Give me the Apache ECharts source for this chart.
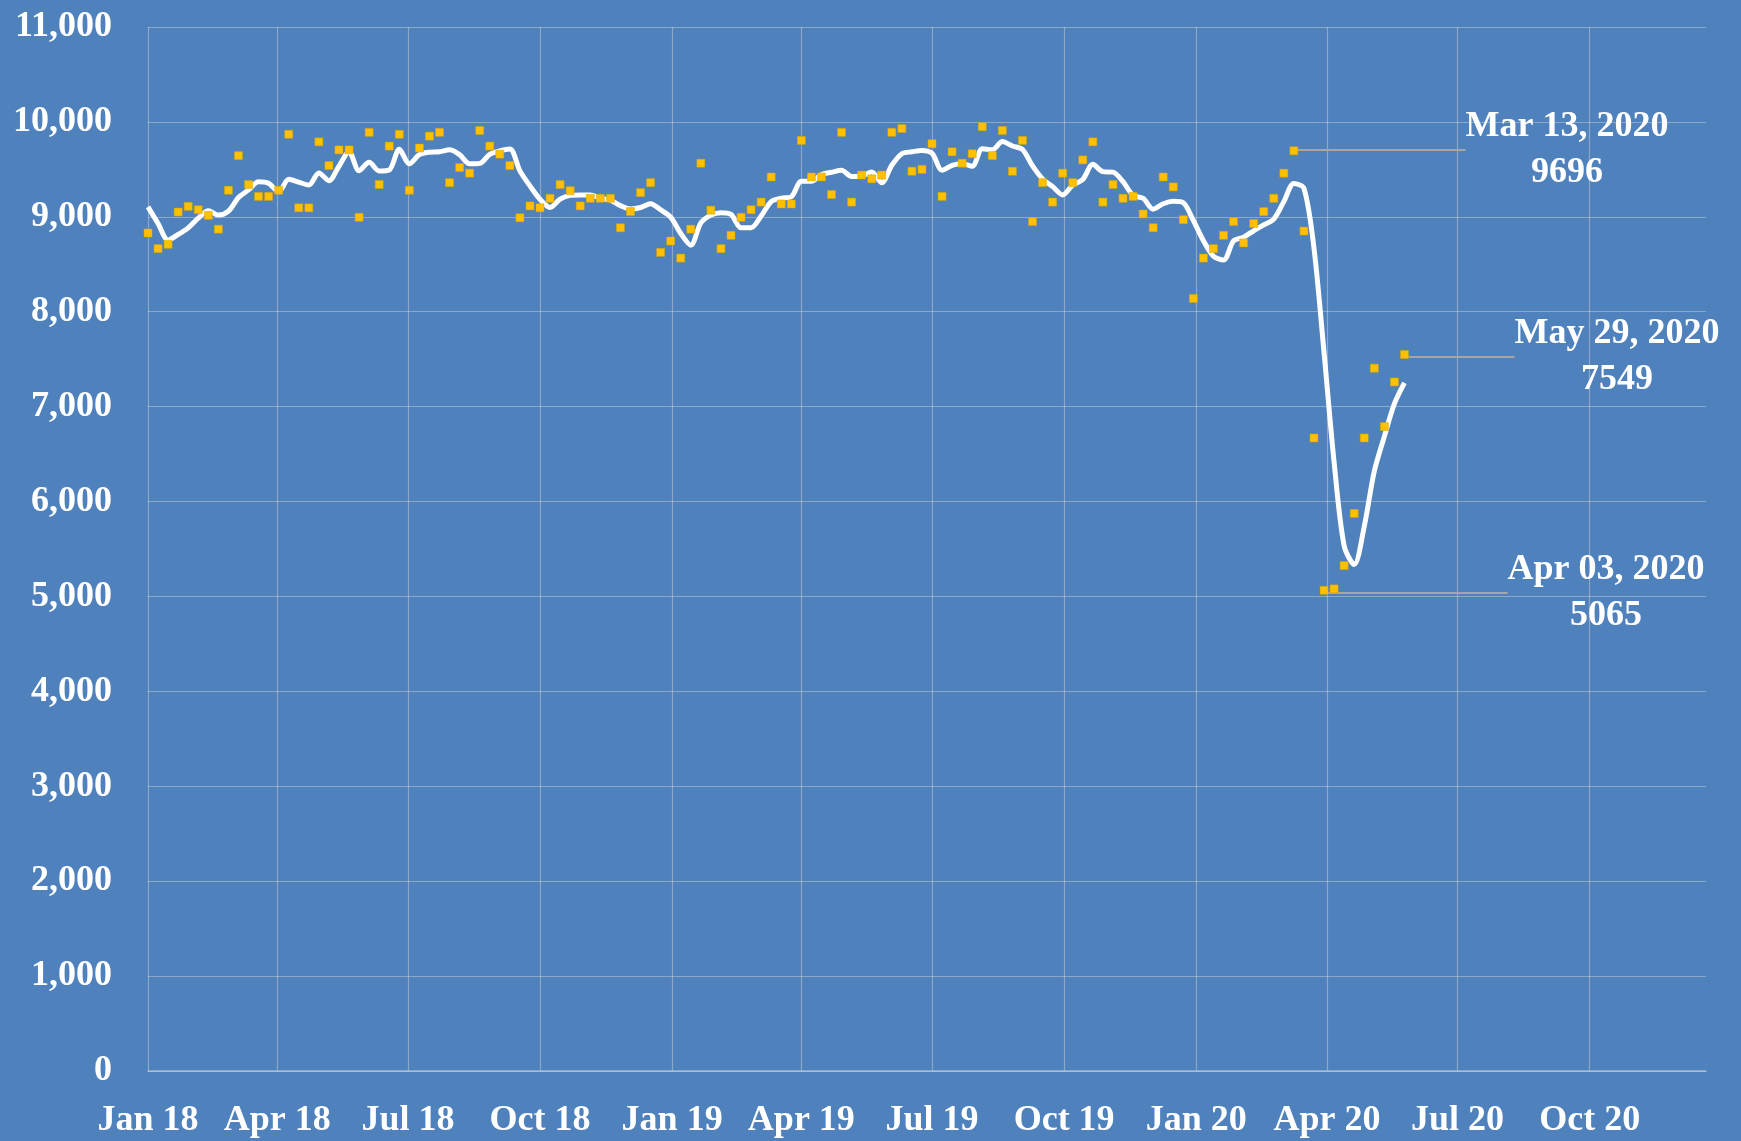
<!DOCTYPE html>
<html>
<head>
<meta charset="utf-8">
<script src="https://cdn.jsdelivr.net/npm/echarts@6/dist/echarts.min.js"></script>
<style>
  html, body { margin: 0; padding: 0; background: #4f81bd; }
  #main { width: 1741px; height: 1141px; }
</style>
</head>
<body>
<div id="main"></div>
<script>
// weekly series, first week starts Mon 1 Jan 2018
const firstWeek = [2018, 0, 1];

const weekly = [
  8830, 8665, 8710, 9050, 9110, 9075, 9015, 8870, 9280, 9645,
  9340, 9215, 9215, 9280, 9870, 9095, 9095, 9790, 9540, 9705,
  9705, 8995, 9890, 9340, 9745, 9870, 9280, 9725, 9850, 9890,
  9360, 9520, 9460, 9910, 9745, 9660, 9540, 8990, 9115, 9095,
  9195, 9340, 9275, 9115, 9195, 9195, 9195, 8885, 9055, 9255,
  9360, 8625, 8745, 8565, 8870, 9565, 9070, 8665, 8805, 8995,
  9075, 9155, 9420, 9135, 9135, 9805, 9420, 9420, 9235, 9890,
  9155, 9440, 9400, 9440, 9890, 9930, 9480, 9500, 9770, 9215,
  9685, 9565, 9665, 9950, 9645, 9910, 9480, 9805, 8950, 9360,
  9155, 9460, 9360, 9600, 9790, 9155, 9340, 9195, 9215, 9030,
  8885, 9420, 9315, 8970, 8140, 8565, 8665, 8805, 8950, 8725,
  8930, 9055, 9195, 9460, 9696, 8850, 6670, 5065, 5080, 5325,
  5875, 6670, 7405, 6790, 7260, 7549
];

// 4 week average line as drawn
const avg4 = [
  9105, 8930, 8755, 8814, 8884, 8986, 9063, 9018, 9060, 9203,
  9284, 9370, 9354, 9263, 9395, 9365, 9335, 9463, 9380, 9533,
  9685, 9486, 9574, 9483, 9493, 9711, 9559, 9655, 9681, 9686,
  9706, 9655, 9558, 9563, 9659, 9694, 9714, 9484, 9326, 9185,
  9099, 9186, 9226, 9231, 9231, 9195, 9175, 9118, 9083, 9098,
  9139, 9074, 8996, 8824, 8701, 8936, 9018, 9043, 9026, 8884,
  8885, 9008, 9161, 9196, 9211, 9374, 9374, 9445, 9470, 9491,
  9425, 9430, 9471, 9359, 9543, 9665, 9685, 9700, 9670, 9491,
  9543, 9559, 9533, 9716, 9706, 9793, 9746, 9710, 9536, 9399,
  9318, 9231, 9334, 9394, 9553, 9476, 9471, 9370, 9226, 9195,
  9081, 9138, 9163, 9148, 8961, 8748, 8585, 8544, 8746, 8786,
  8853, 8915, 8976, 9160, 9352, 9300, 8669, 7570, 6416, 5535,
  5336, 5738, 6319, 6685, 7031, 7251
];

const quarterTicks = [
  '2018-01-01', '2018-04-01', '2018-07-01', '2018-10-01',
  '2019-01-01', '2019-04-01', '2019-07-01', '2019-10-01',
  '2020-01-01', '2020-04-01', '2020-07-01', '2020-10-01'
];
const monthNames = ['Jan', 'Feb', 'Mar', 'Apr', 'May', 'Jun', 'Jul', 'Aug', 'Sep', 'Oct', 'Nov', 'Dec'];

// annotated weeks: data index -> caption
const notes = { 114: 'Mar 13, 2020', 117: 'Apr 03, 2020', 125: 'May 29, 2020' };
// where each caption sits (px)
const notePos = { 114: [1567, 150], 117: [1606, 593], 125: [1617, 357] };

function toTime(s) {
  const p = s.split('-');
  return new Date(+p[0], +p[1] - 1, +p[2]).getTime();
}
function weekTime(i) {
  return new Date(firstWeek[0], firstWeek[1], firstWeek[2] + 7 * i).getTime();
}

const font = 'Liberation Serif';
const gridColor = 'rgba(215,215,215,0.45)';
const tickTimes = quarterTicks.map(toTime);

const myChart = echarts.init(document.getElementById('main'));

const option = {
  backgroundColor: '#4f81bd',
  animation: false,
  grid: { left: 148, right: 35, top: 27, bottom: 70 },
  xAxis: {
    type: 'value',
    min: toTime('2018-01-01'),
    max: toTime('2020-12-21'),
    axisLine: { show: true, lineStyle: { color: 'rgba(215,215,215,0.6)', width: 1.5 } },
    axisTick: { show: false, customValues: tickTimes },
    splitLine: { show: true, lineStyle: { color: gridColor, width: 1.2 } },
    axisLabel: {
      customValues: tickTimes,
      color: '#fff',
      fontFamily: font,
      fontWeight: 'bold',
      fontSize: 36,
      margin: 32,
      formatter: function (v) {
        const d = new Date(v);
        return monthNames[d.getMonth()] + ' ' + String(d.getFullYear()).slice(2);
      }
    }
  },
  yAxis: {
    type: 'value',
    min: 0,
    max: 11000,
    interval: 1000,
    axisLine: { show: false },
    axisTick: { show: false },
    splitLine: { lineStyle: { color: gridColor, width: 1.2 } },
    axisLabel: {
      color: '#fff',
      fontFamily: font,
      fontWeight: 'bold',
      fontSize: 36,
      margin: 36,
      formatter: function (v) { return v.toLocaleString('en-US'); }
    }
  },
  series: [
    {
      name: '4 week average',
      type: 'line',
      data: avg4.map((v, i) => [weekTime(i), v]),
      smooth: 0.3,
      showSymbol: false,
      lineStyle: { color: '#ffffff', width: 5 },
      z: 2
    },
    {
      name: 'weekly',
      type: 'scatter',
      symbol: 'rect',
      symbolSize: 8,
      itemStyle: { color: '#ffc000', borderColor: '#d9a300', borderWidth: 0.5, opacity: 1 },
      data: weekly.map((v, i) => {
        const item = { value: [weekTime(i), v] };
        if (notes[i]) {
          item.label = { show: true, formatter: notes[i] + '\n' + v };
          item.labelLine = { show: true };
        }
        return item;
      }),
      label: {
        show: false,
        color: '#fff',
        fontFamily: font,
        fontWeight: 'bold',
        fontSize: 36,
        lineHeight: 46,
        align: 'center'
      },
      labelLine: { show: false, lineStyle: { color: '#a6a6a6', width: 2 } },
      labelLayout: function (p) {
        const pos = notePos[p.dataIndex];
        if (!pos) return {};
        return { x: pos[0], y: pos[1], align: 'center', verticalAlign: 'middle' };
      },
      z: 3
    }
  ]
};

myChart.setOption(option);
window.addEventListener('resize', function () { myChart.resize(); });
</script>
</body>
</html>
